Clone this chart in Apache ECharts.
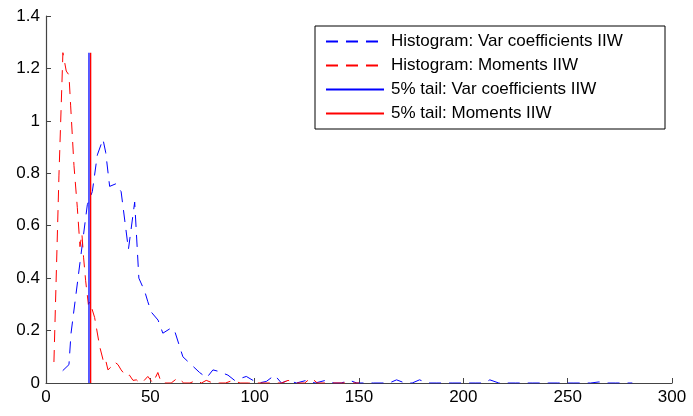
<!DOCTYPE html>
<html>
<head>
  <meta charset="UTF-8">
  <title>Histogram IIW</title>
  <script src="https://cdn.jsdelivr.net/npm/echarts@6/dist/echarts.min.js"></script>
  <style>
    html, body, #main { margin: 0; padding: 0; width: 693px; height: 416px; background: #fff; }
  </style>
</head>
<body>
  <div id="main"></div>
  <script>
    // histogram: Var coefficients IIW (blue dashed)
    const varX = [8, 11, 12, 16.3, 19.8, 22.2, 24.6, 27.3, 28.6, 30.5, 33.5, 36, 39.5, 42.5, 44.5, 47.3,
      48.8, 50.5, 53.7, 56, 60, 61.6, 64, 65.6, 69.6, 73.6, 77, 80, 82.4, 87.2, 90.4, 96, 99.2, 102, 105.6,
      109.6, 112.8, 116, 120, 124.8, 129, 134, 138, 141.5, 145.5, 149, 153, 157, 161, 164.5, 168, 172, 175.5,
      179, 183, 187, 191, 195, 199, 203, 206, 210, 212.7, 217, 221, 225, 229, 233, 237, 241, 245, 249, 253,
      257, 261, 265, 269, 273, 277, 281];
    const varY = [0.047, 0.07, 0.19, 0.46, 0.68, 0.73, 0.87, 0.93, 0.88, 0.75, 0.76, 0.73, 0.51, 0.69, 0.40, 0.35,
      0.31, 0.27, 0.24, 0.19, 0.21, 0.20, 0.14, 0.10, 0.07, 0.04, 0.02, 0.05, 0.045, 0.03, 0.01, 0.025, 0.01, 0, 0.006,
      0.03, 0, 0.01, 0, 0.01, 0, 0.01, 0, 0, 0.01, 0, 0, 0, 0, 0, 0.012, 0, 0,
      0.012, 0, 0, 0, 0, 0, 0, 0, 0, 0.012, 0, 0, 0, 0, 0, 0, 0, 0, 0, 0,
      0, 0, 0.004, 0, 0, 0, 0];

    // histogram: Moments IIW (red dashed)
    const momX = [3.8, 6.2, 8.1, 9.7, 11, 11.8, 13.4, 15, 16.3, 17.2, 18, 19, 20.3, 21, 23.3, 25.7, 27.3, 28.2,
      29.7, 31, 32.9, 34.5, 36, 38.5, 40, 41.7, 43.3, 45, 46.5, 48.8, 51.2, 53.6, 55.3, 58, 60, 63.2, 66, 69,
      72, 74.5, 76.8, 80, 83, 86, 89.6, 93, 97, 101, 105, 109, 113, 116, 120, 124, 127, 130, 134, 138, 142, 146, 150];
    const momY = [0.08, 0.79, 1.26, 1.19, 1.175, 1.06, 0.83, 0.67, 0.52, 0.57, 0.48, 0.39, 0.30, 0.31, 0.25, 0.14, 0.09, 0.10,
      0.05, 0.06, 0.08, 0.07, 0.05, 0.025, 0.03, 0.01, 0.012, 0, 0.005, 0.025, 0, 0.04, 0, 0, 0, 0.02, 0, 0,
      0.01, 0, 0.01, 0, 0, 0, 0.01, 0, 0, 0, 0, 0, 0, 0.01, 0, 0, 0.02, 0, 0, 0, 0, 0, 0];

    // 5% tails (vertical lines)
    const tailVar = 20.6;
    const tailMom = 21.4;
    const tailTop = 1.26;

    const names = ['Histogram: Var coefficients IIW', 'Histogram: Moments IIW',
      '5% tail: Var coefficients IIW', '5% tail: Moments IIW'];

    const pairs = (xs, ys) => xs.map((x, i) => [x, ys[i]]);

    const chart = echarts.init(document.getElementById('main'), null, { renderer: 'canvas' });
    const font = 'Liberation Sans, Arial, sans-serif';

    function lineSeries(name, data, color, dashed, width) {
      return {
        name: name,
        type: 'line',
        data: data,
        symbol: 'none',
        showSymbol: false,
        silent: true,
        animation: false,
        lineStyle: { color: color, width: width, type: dashed ? [12, 8] : 'solid' },
        itemStyle: { color: color }
      };
    }

    chart.setOption({
      animation: false,
      grid: { left: 46, right: 21, top: 16, bottom: 33 },
      legend: {
        orient: 'vertical',
        left: 315,
        top: 26,
        padding: [7, 2, 7, 10],
        itemWidth: 58,
        itemHeight: 16,
        itemGap: 7,
        backgroundColor: '#fff',
        borderColor: '#000',
        borderWidth: 1,
        borderRadius: 0,
        selectedMode: false,
        itemStyle: { opacity: 0 },
        textStyle: { fontFamily: font, fontSize: 17, color: '#000', lineHeight: 16, width: 272, padding: [0, 0, 0, 2] },
        data: names
      },
      xAxis: {
        type: 'value',
        min: 0, max: 300, interval: 50,
        splitLine: { show: false },
        axisLine: { lineStyle: { color: '#444', width: 1.2 } },
        axisTick: { inside: true, length: 5, lineStyle: { color: '#444' } },
        axisLabel: { fontFamily: font, fontSize: 17, color: '#000', margin: 6 }
      },
      yAxis: {
        type: 'value',
        min: 0, max: 1.4, interval: 0.2,
        splitLine: { show: false },
        axisLine: { show: true, lineStyle: { color: '#444', width: 1.2 } },
        axisTick: { show: true, inside: true, length: 5, lineStyle: { color: '#444' } },
        axisLabel: { fontFamily: font, fontSize: 17, color: '#000', margin: 6 }
      },
      series: [
        lineSeries(names[0], pairs(varX, varY), '#0000ff', true, 1),
        lineSeries(names[1], pairs(momX, momY), '#ff0000', true, 1),
        lineSeries(names[2], [[tailVar, 0], [tailVar, tailTop]], '#0000ff', false, 1.3),
        lineSeries(names[3], [[tailMom, 0], [tailMom, tailTop]], '#ff0000', false, 1.3)
      ]
    });
  </script>
</body>
</html>
